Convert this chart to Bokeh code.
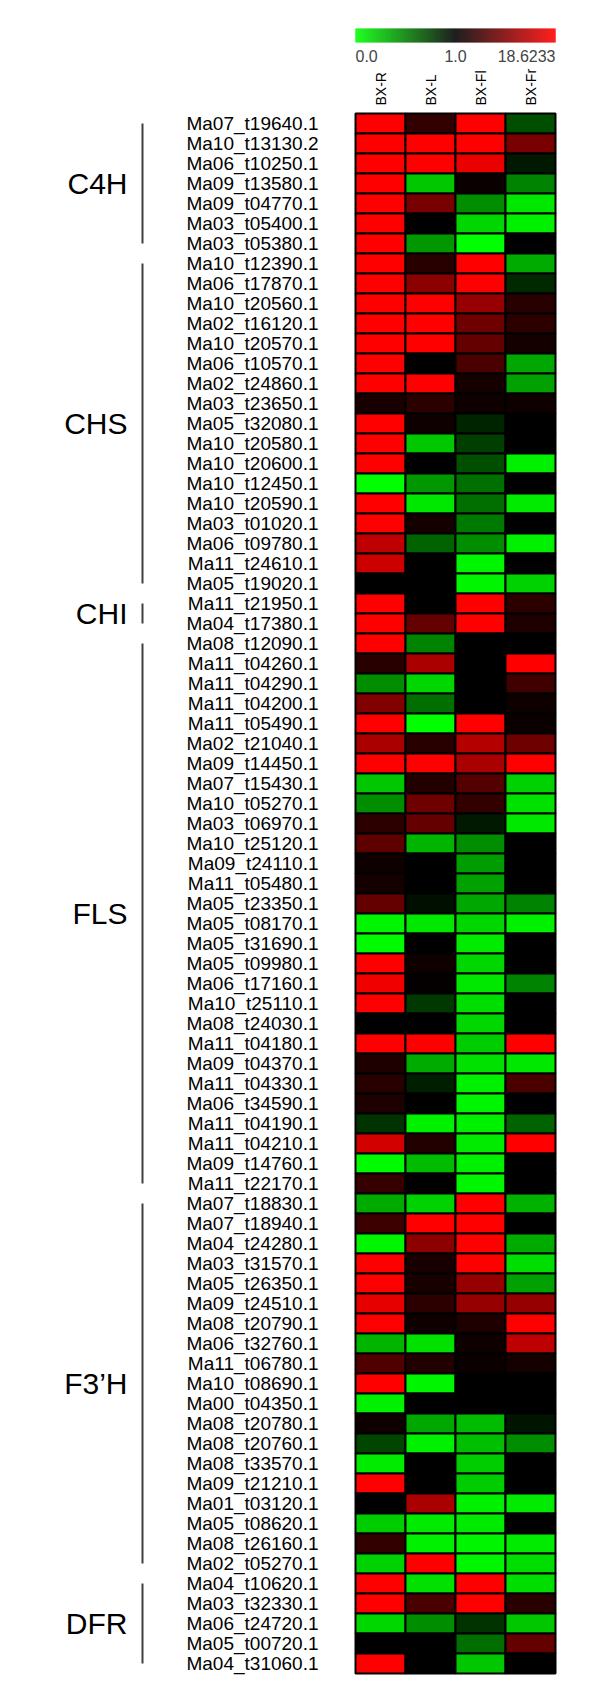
import math
from bokeh.plotting import figure
from bokeh.models import Range1d, ColumnDataSource, LinearColorMapper
from bokeh.transform import transform
from bokeh.core.properties import value
from bokeh.embed import file_html
from bokeh.resources import INLINE

# ---------------- data ----------------
samples = ["BX-R", "BX-L", "BX-Fl", "BX-Fr"]
scale_min, scale_mid, scale_max = 0.0, 1.0, 18.6233
scale_labels = ["0.0", "1.0", "18.6233"]

group_names = ["C4H", "CHS", "CHI", "FLS", "F3\u2019H", "DFR"]
group_sizes = [7, 17, 2, 28, 19, 5]

genes = [
    "Ma07_t19640.1", "Ma10_t13130.2", "Ma06_t10250.1", "Ma09_t13580.1", "Ma09_t04770.1",
    "Ma03_t05400.1", "Ma03_t05380.1",
    "Ma10_t12390.1", "Ma06_t17870.1", "Ma10_t20560.1", "Ma02_t16120.1", "Ma10_t20570.1",
    "Ma06_t10570.1", "Ma02_t24860.1", "Ma03_t23650.1", "Ma05_t32080.1", "Ma10_t20580.1",
    "Ma10_t20600.1", "Ma10_t12450.1", "Ma10_t20590.1", "Ma03_t01020.1", "Ma06_t09780.1",
    "Ma11_t24610.1", "Ma05_t19020.1",
    "Ma11_t21950.1", "Ma04_t17380.1",
    "Ma08_t12090.1", "Ma11_t04260.1", "Ma11_t04290.1", "Ma11_t04200.1", "Ma11_t05490.1",
    "Ma02_t21040.1", "Ma09_t14450.1", "Ma07_t15430.1", "Ma10_t05270.1", "Ma03_t06970.1",
    "Ma10_t25120.1", "Ma09_t24110.1", "Ma11_t05480.1", "Ma05_t23350.1", "Ma05_t08170.1",
    "Ma05_t31690.1", "Ma05_t09980.1", "Ma06_t17160.1", "Ma10_t25110.1", "Ma08_t24030.1",
    "Ma11_t04180.1", "Ma09_t04370.1", "Ma11_t04330.1", "Ma06_t34590.1", "Ma11_t04190.1",
    "Ma11_t04210.1", "Ma09_t14760.1", "Ma11_t22170.1",
    "Ma07_t18830.1", "Ma07_t18940.1", "Ma04_t24280.1", "Ma03_t31570.1", "Ma05_t26350.1",
    "Ma09_t24510.1", "Ma08_t20790.1", "Ma06_t32760.1", "Ma11_t06780.1", "Ma10_t08690.1",
    "Ma00_t04350.1", "Ma08_t20780.1", "Ma08_t20760.1", "Ma08_t33570.1", "Ma09_t21210.1",
    "Ma01_t03120.1", "Ma05_t08620.1", "Ma08_t26160.1", "Ma02_t05270.1",
    "Ma04_t10620.1", "Ma03_t32330.1", "Ma06_t24720.1", "Ma05_t00720.1", "Ma04_t31060.1",
]

bx_r = [
    18.62, 18.62, 18.62, 18.62, 18.62, 18.62, 18.62,
    18.62, 18.62, 18.62, 18.62, 18.62, 18.62, 18.62, 2.73, 18.62, 18.62,
    18.62, 0.00, 18.62, 18.62, 14.13, 15.17, 1.00,
    18.62, 18.62,
    18.62, 3.76, 0.45, 9.98, 18.62, 12.75, 18.62, 0.22, 0.45, 4.11,
    7.57, 2.04, 2.38, 7.91, 0.04, 0.02, 18.62, 17.59, 18.62, 1.00,
    18.62, 3.07, 3.76, 3.07, 0.80, 15.51, 0.02, 4.80,
    0.33, 5.15, 0.04, 18.62, 18.62, 16.89, 18.62, 0.29, 6.53, 18.62,
    0.06, 2.04, 0.73, 0.08, 18.62, 1.00, 0.20, 4.46, 0.18,
    18.62, 18.62, 0.16, 1.00, 18.62,
]
bx_l = [
    4.46, 18.62, 18.62, 0.22, 9.29, 1.00, 0.41,
    3.76, 10.67, 18.62, 18.62, 18.62, 1.00, 18.62, 4.11, 2.04, 0.22,
    1.00, 0.41, 0.10, 2.38, 0.61, 1.00, 1.00,
    1.00, 7.91,
    0.49, 12.75, 0.16, 0.57, 0.00, 3.76, 18.62, 3.42, 8.60, 7.91,
    0.29, 1.00, 1.00, 0.94, 0.10, 1.00, 2.04, 1.35, 0.78, 1.00,
    18.62, 0.33, 0.88, 1.00, 0.06, 3.42, 0.27, 1.00,
    0.18, 18.62, 10.67, 2.73, 2.73, 4.11, 2.04, 0.12, 3.42, 0.04,
    1.00, 0.35, 0.06, 1.00, 1.00, 12.75, 0.08, 0.06, 18.62,
    0.12, 6.18, 0.45, 1.00, 1.00,
]
bx_fl = [
    18.62, 18.62, 17.24, 1.69, 0.45, 0.16, 0.00,
    18.62, 18.62, 11.37, 8.60, 7.91, 6.18, 2.38, 2.04, 0.86, 0.75,
    0.69, 0.57, 0.57, 0.53, 0.45, 0.04, 0.04,
    18.62, 18.62,
    1.00, 1.00, 1.00, 1.00, 18.62, 13.44, 12.75, 6.87, 4.46, 0.90,
    0.45, 0.39, 0.37, 0.35, 0.16, 0.08, 0.16, 0.10, 0.14, 0.16,
    0.20, 0.12, 0.06, 0.04, 0.06, 0.08, 0.06, 0.04,
    18.62, 18.62, 18.62, 18.62, 11.37, 11.37, 3.07, 2.04, 1.69, 1.00,
    1.00, 0.27, 0.25, 0.20, 0.20, 0.06, 0.08, 0.04, 0.04,
    18.62, 18.62, 0.80, 0.57, 0.22,
]
bx_fr = [
    0.69, 9.29, 0.90, 0.49, 0.10, 0.06, 1.00,
    0.33, 0.84, 3.76, 4.11, 2.38, 0.35, 0.37, 2.04, 1.00, 1.00,
    0.06, 1.00, 0.08, 1.00, 0.06, 1.00, 0.18,
    4.11, 3.07,
    1.00, 18.62, 5.49, 2.04, 1.69, 8.60, 18.62, 0.18, 0.12, 0.10,
    1.00, 1.00, 1.00, 0.49, 0.06, 1.00, 1.00, 0.49, 1.00, 1.00,
    18.62, 0.10, 6.18, 1.00, 0.61, 18.62, 1.00, 1.00,
    0.31, 1.00, 0.33, 0.14, 0.37, 11.37, 18.62, 14.13, 2.38, 1.00,
    1.00, 0.92, 0.45, 1.00, 1.00, 0.08, 1.00, 0.08, 0.14,
    0.14, 3.76, 0.22, 7.91, 1.00,
]

# ---------------- colour scale ----------------
def score(v):
    # green (0.0) -> black (1.0) -> red (18.6233), linear on each side
    if v <= scale_mid:
        return (v - scale_mid) / (scale_mid - scale_min)
    return min(1.0, (v - scale_mid) / (scale_max - scale_mid))

palette = []
for k in range(256):
    t = -1 + 2 * k / 255
    if t < 0:
        palette.append("#%02x%02x%02x" % (0, round(-t * 255), 0))
    else:
        palette.append("#%02x%02x%02x" % (round(t * 255), 0, 0))
mapper = LinearColorMapper(palette=palette, low=-1, high=1)

# ---------------- figure (1 x-unit = one column, 1 y-unit = one row) ----------------
W, H = 600, 1690
COL_W, ROW_H = 50, 20           # px per column / row
HM_LEFT, HM_TOP = 355, 113      # heatmap origin inside the canvas (px)

p = figure(width=W, height=H, output_backend="svg", toolbar_location=None,
           x_range=Range1d(-HM_LEFT / COL_W, (W - HM_LEFT) / COL_W),
           y_range=Range1d((H - HM_TOP) / ROW_H, -HM_TOP / ROW_H),
           x_axis_location=None, y_axis_location=None, min_border=0)
p.grid.visible = False
p.outline_line_color = None
p.background_fill_color = "white"

values_by_col = [bx_r, bx_l, bx_fl, bx_fr]
xs, ys, ts = [], [], []
for j, col in enumerate(values_by_col):
    for i, v in enumerate(col):
        xs.append(j + 0.5)
        ys.append(i + 0.5)
        ts.append(score(v))
src = ColumnDataSource(dict(x=xs, y=ys, t=ts))
p.rect(x="x", y="y", width=1, height=1, source=src,
       fill_color=transform("t", mapper), line_color="black", line_width=2)

FONT = value("Liberation Sans")

# gene labels
p.text(x=[-0.74] * len(genes), y=[i + 0.5 for i in range(len(genes))], text=genes,
       text_align="right", text_baseline="middle", text_font=FONT,
       text_font_size="19px", text_color="black")

# sample headers (vertical)
p.text(x=[j + 0.5 for j in range(len(samples))], y=[-0.4] * len(samples), text=samples,
       angle=math.pi / 2, text_align="left", text_baseline="middle", text_font=FONT,
       text_font_size="14px", text_color="black")

# gradient legend bar
n = 200
gx = [4 * (k + 0.5) / n for k in range(n)]
gt = [-1 + 2 * (k + 0.5) / n for k in range(n)]
gsrc = ColumnDataSource(dict(x=gx, t=gt))
p.rect(x="x", y=-3.9, width=4 / n * 1.3, height=0.7, source=gsrc,
       fill_color=transform("t", mapper), line_color=None)
p.text(x=[0, 2, 4], y=[-2.875] * 3, text=scale_labels,
       text_align=["left", "center", "right"], text_baseline="middle",
       text_font=FONT, text_font_size="16px", text_color="#444444")

# group brackets and labels
start = 0
gl_x, gl_y = [], []
for name, size in zip(group_names, group_sizes):
    end = start + size
    p.line(x=[-4.26, -4.26], y=[start + 0.5, end - 0.5], line_color="#404040", line_width=2)
    gl_x.append(-4.56)
    gl_y.append((start + end) / 2)
    start = end
p.text(x=gl_x, y=gl_y, text=group_names, text_align="right", text_baseline="middle",
       text_font=FONT, text_font_size="30px", text_color="black")

open("out.html", "w").write(file_html(p, INLINE))
